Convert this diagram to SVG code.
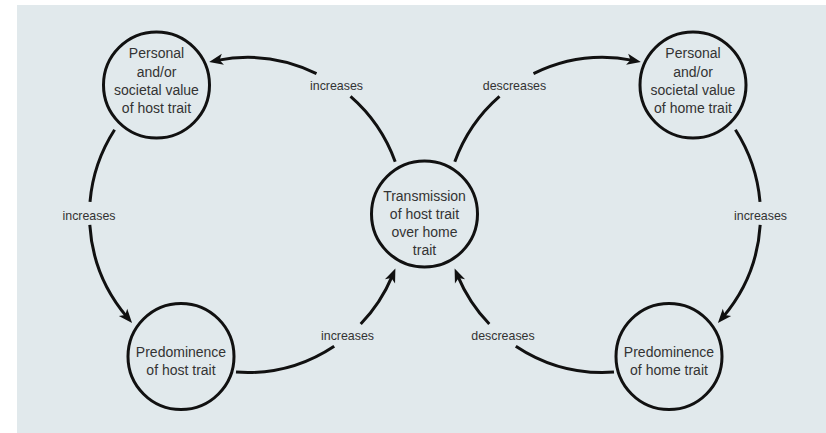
<svg xmlns="http://www.w3.org/2000/svg" width="826" height="433" viewBox="0 0 826 433">
  <style>
    .node circle { fill: none; stroke: #111; stroke-width: 3; }
    .node text { font-family: "Liberation Sans", Arial, sans-serif; font-size: 14px; fill: #333; text-anchor: middle; }
    .conn path { fill: none; stroke: #111; stroke-width: 3; }
    .lbl { font-family: "Liberation Sans", Arial, sans-serif; font-size: 12.4px; fill: #333; text-anchor: middle; }
  </style>
  <defs>
    <marker id="arr" markerUnits="userSpaceOnUse" viewBox="-10 -10 20 20" markerWidth="20" markerHeight="20" refX="0" refY="0" orient="auto" overflow="visible">
      <path d="M8,0 L-6,-5.5 L-2.5,0 L-6,5.5 Z" fill="#111"/>
    </marker>
  </defs>
  <rect x="17" y="5" width="809" height="428" fill="#e1e9ec"/>

  <g id="connectors" class="conn">
    <!-- left loop (centre 247,215 r 157.5) -->
    <path d="M395.2,161.7 A157.5,157.5 0 0,0 350.5,96.3"/>
    <path d="M316.5,73.7 A157.5,157.5 0 0,0 217,60.4" marker-end="url(#arr)"/>
    <path d="M114.6,129.7 A157.5,157.5 0 0,0 90,201.8"/>
    <path d="M89.8,224.9 A157.5,157.5 0 0,0 126.9,316.9" marker-end="url(#arr)"/>
    <path d="M236,372.1 A157.5,157.5 0 0,0 334.2,346.2"/>
    <path d="M360.7,324 A157.5,157.5 0 0,0 392.3,275.8" marker-end="url(#arr)"/>
    <!-- right loop (mirror) -->
    <path d="M454.8,161.7 A157.5,157.5 0 0,1 499.5,96.3"/>
    <path d="M533.5,73.7 A157.5,157.5 0 0,1 633,60.4" marker-end="url(#arr)"/>
    <path d="M735.4,129.7 A157.5,157.5 0 0,1 760,201.8"/>
    <path d="M760.2,224.9 A157.5,157.5 0 0,1 723.1,316.9" marker-end="url(#arr)"/>
    <path d="M614,372.1 A157.5,157.5 0 0,1 515.8,346.2"/>
    <path d="M489.3,324 A157.5,157.5 0 0,1 457.7,275.8" marker-end="url(#arr)"/>
    <text class="lbl" x="336.5" y="90">increases</text>
    <text class="lbl" x="89" y="220">increases</text>
    <text class="lbl" x="347.5" y="340">increases</text>
    <text class="lbl" x="514.5" y="90">descreases</text>
    <text class="lbl" x="760.5" y="220">increases</text>
    <text class="lbl" x="503" y="340">descreases</text>
  </g>

  <g id="node-host-value" class="node">
    <circle cx="156.5" cy="85" r="53"/>
    <text x="156.5" y="58">Personal</text>
    <text x="156.5" y="76.5">and/or</text>
    <text x="156.5" y="95">societal value</text>
    <text x="156.5" y="113">of host trait</text>
  </g>
  <g id="node-host-predominence" class="node">
    <circle cx="181" cy="356.5" r="53"/>
    <text x="181" y="357">Predominence</text>
    <text x="181" y="375">of host trait</text>
  </g>
  <g id="node-transmission" class="node">
    <circle cx="424.5" cy="214" r="53"/>
    <text x="424.5" y="201">Transmission</text>
    <text x="424.5" y="219">of host trait</text>
    <text x="424.5" y="237">over home</text>
    <text x="424.5" y="255">trait</text>
  </g>
  <g id="node-home-value" class="node">
    <circle cx="693" cy="85" r="53"/>
    <text x="693" y="58">Personal</text>
    <text x="693" y="76.5">and/or</text>
    <text x="693" y="95">societal value</text>
    <text x="693" y="113">of home trait</text>
  </g>
  <g id="node-home-predominence" class="node">
    <circle cx="669" cy="356.5" r="53"/>
    <text x="669" y="357">Predominence</text>
    <text x="669" y="375">of home trait</text>
  </g>
</svg>
